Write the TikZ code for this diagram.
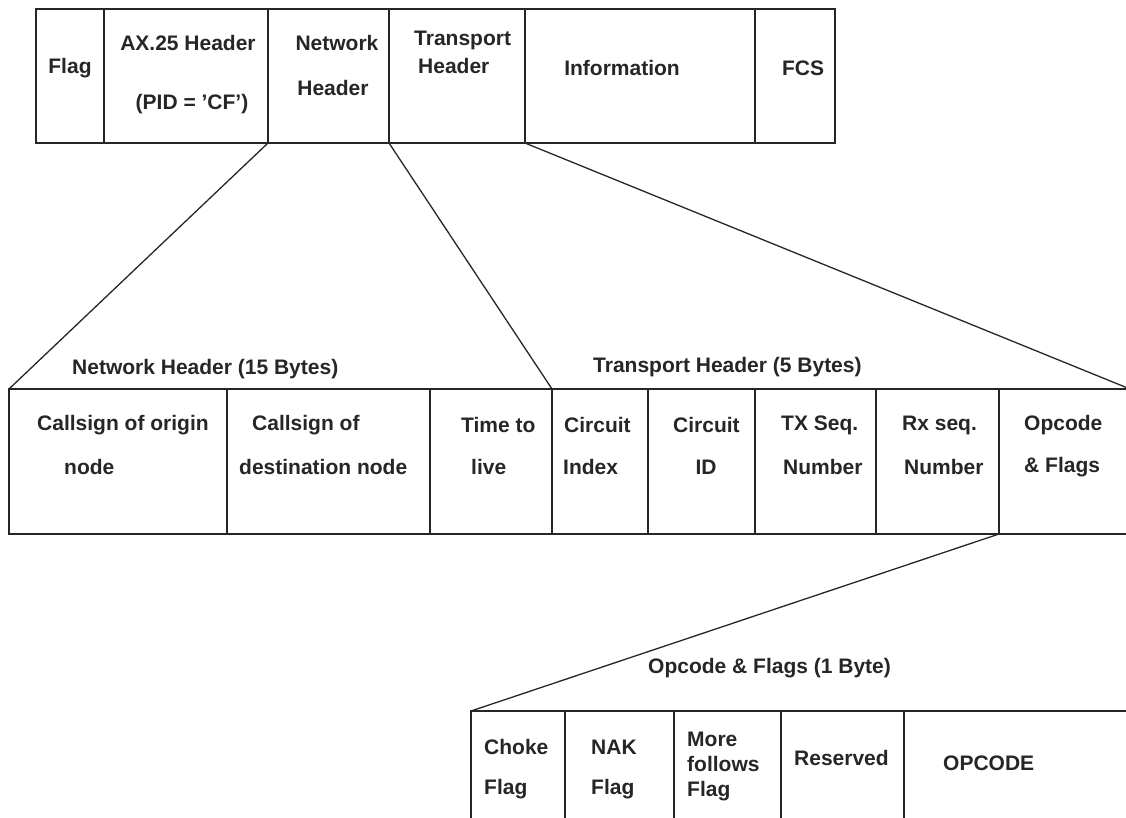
\documentclass[tikz,border=0pt]{standalone}
\usepackage{fontspec}
\setmainfont{Liberation Sans}
\usetikzlibrary{positioning}
\definecolor{ink}{HTML}{262626}

\begin{document}
\begin{tikzpicture}
[x=1pt,y=-1pt,node distance=0pt,
                    cell/.style={draw=ink,line width=1.3pt,inner sep=0pt,outer sep=0pt},
                    toprow/.style={cell,minimum height=134},
                    midrow/.style={cell,minimum height=145},
                    lowrow/.style={cell,minimum height=124},
                    lbl/.style={font=\fontsize{21}{25}\selectfont\bfseries,text=ink,inner sep=0pt},
                    link/.style={draw=ink,line width=1.3pt}]
\useasboundingbox (0,0) rectangle (1126,817);
\clip (0,0) rectangle (1126,817);

% frame
\node[toprow, minimum width=68, anchor=north west] (flag) at (36,9) {};
\node[toprow, minimum width=164, right=of flag] (ax) {};
\node[toprow, minimum width=121, right=of ax] (net) {};
\node[toprow, minimum width=136, right=of net] (trans) {};
\node[toprow, minimum width=230, right=of trans] (info) {};
\node[toprow, minimum width=80, right=of info] (fcs) {};

% network and transport headers
\node[midrow, minimum width=218, anchor=north west] (orig) at (9,389) {};
\node[midrow, minimum width=203, right=of orig] (dest) {};
\node[midrow, minimum width=122, right=of dest] (ttl) {};
\node[midrow, minimum width=96, right=of ttl] (cidx) {};
\node[midrow, minimum width=107, right=of cidx] (cid) {};
\node[midrow, minimum width=121, right=of cid] (txseq) {};
\node[midrow, minimum width=123, right=of txseq] (rxseq) {};
\node[midrow, minimum width=131, right=of rxseq] (opfl) {};

% opcode byte
\node[lowrow, minimum width=94, anchor=north west] (choke) at (471,711) {};
\node[lowrow, minimum width=109, right=of choke] (nak) {};
\node[lowrow, minimum width=107, right=of nak] (more) {};
\node[lowrow, minimum width=123, right=of more] (resv) {};
\node[lowrow, minimum width=226, right=of resv] (opc) {};

\path[link]
	(net.south west) edge (orig.north west)
	(net.south east) edge (ttl.north east)
	(trans.south east) edge (opfl.north east)
	(rxseq.south east) edge (choke.north west);

% labels
\node[lbl] (tflag) at (70,68) {Flag};
\node[lbl] (tax) at (188,43) {AX.25 Header};
\node[lbl] (tpid) at (192,104) {(PID = 'CF')};
\node[lbl] (tnet1) at (337,43) {Network};
\node[lbl] (tnet2) at (333,88) {Header};
\node[lbl, anchor=west] (ttr1) at (414,40) {Transport};
\node[lbl, anchor=west] (ttr2) at (418,66) {Header};
\node[lbl] (tinfo) at (622,68) {Information};
\node[lbl] (tfcs) at (803,68) {FCS};

\node[lbl, anchor=west] (hnet) at (72,369) {Network Header (15 Bytes)};
\node[lbl, anchor=west] (htr) at (593,367) {Transport Header (5 Bytes)};
\node[lbl, anchor=west] (hop) at (648,668) {Opcode \& Flags (1 Byte)};

\node[lbl, anchor=west] (torig1) at (37,425) {Callsign of origin};
\node[lbl, anchor=west] (torig2) at (64,467) {node};
\node[lbl, anchor=west] (tdest1) at (252,425) {Callsign of};
\node[lbl, anchor=west] (tdest2) at (239,467) {destination node};
\node[lbl, anchor=west] (tttl1) at (461,425) {Time to};
\node[lbl, anchor=west] (tttl2) at (471,467) {live};
\node[lbl, anchor=west] (tcidx1) at (564,425) {Circuit};
\node[lbl, anchor=west] (tcidx2) at (563,467) {Index};
\node[lbl, anchor=west] (tcid1) at (673,425) {Circuit};
\node[lbl] (tcid2) at (706,467) {ID};
\node[lbl, anchor=west] (ttx1) at (781,425) {TX Seq.};
\node[lbl, anchor=west] (ttx2) at (783,467) {Number};
\node[lbl, anchor=west] (trx1) at (902,425) {Rx seq.};
\node[lbl, anchor=west] (trx2) at (904,467) {Number};
\node[lbl, anchor=west] (top1) at (1024,425) {Opcode};
\node[lbl, anchor=west] (top2) at (1024,467) {\& Flags};

\node[lbl, anchor=west] (tchoke1) at (484,747) {Choke};
\node[lbl, anchor=west] (tchoke2) at (484,789) {Flag};
\node[lbl, anchor=west] (tnak1) at (591,747) {NAK};
\node[lbl, anchor=west] (tnak2) at (591,789) {Flag};
\node[lbl, anchor=west] (tmore1) at (687,739) {More};
\node[lbl, anchor=west] (tmore2) at (687,764) {follows};
\node[lbl, anchor=west] (tmore3) at (687,791) {Flag};
\node[lbl, anchor=west] (tresv) at (794,758) {Reserved};
\node[lbl, anchor=west] (topc) at (943,763) {OPCODE};
\end{tikzpicture}
\end{document}
